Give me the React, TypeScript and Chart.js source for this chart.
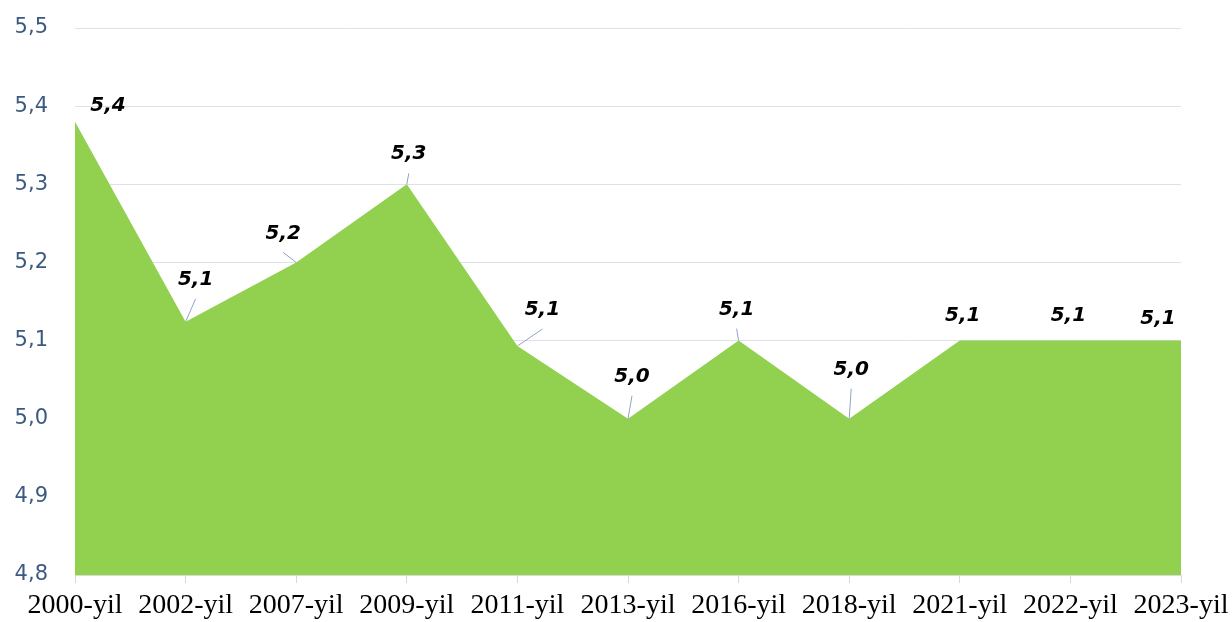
import React, { useEffect, useRef } from "react";
import { Chart, registerables } from "chart.js";

Chart.register(...registerables);

const categories = [
  "2000-yil", "2002-yil", "2007-yil", "2009-yil", "2011-yil", "2013-yil",
  "2016-yil", "2018-yil", "2021-yil", "2022-yil", "2023-yil",
];
const values = [5.38, 5.124, 5.2, 5.3, 5.093, 5.0, 5.1, 5.0, 5.1, 5.1, 5.1];
const valueLabels = ["5,4", "5,1", "5,2", "5,3", "5,1", "5,0", "5,1", "5,0", "5,1", "5,1", "5,1"];
const yTicks = [4.8, 4.9, 5.0, 5.1, 5.2, 5.3, 5.4, 5.5];

// label placement (style): offset of label centre from its point, and whether a leader line is drawn
const labelDx = [33, 10, -13, 2, 25, 4, -2, 2, 3, -2, -23];
const labelDy = [-16, -42, -29, -30, -36, -42, -31, -49, -25, -25, -22];
const hasLeader = [false, true, true, true, true, true, true, true, false, false, false];

const dataLabelPlugin = {
  id: "dataLabels",
  afterDatasetsDraw(chart: any) {
    const ctx = chart.ctx;
    const meta = chart.getDatasetMeta(0);
    ctx.save();
    meta.data.forEach((pt: any, i: number) => {
      const lx = pt.x + labelDx[i];
      const ly = pt.y + labelDy[i];
      if (hasLeader[i]) {
        ctx.strokeStyle = "#8fa3c8";
        ctx.lineWidth = 1;
        ctx.beginPath();
        ctx.moveTo(lx, ly + 19);
        ctx.lineTo(pt.x, pt.y);
        ctx.stroke();
      }
      ctx.font = "italic bold 20px 'DejaVu Sans'";
      ctx.fillStyle = "#000000";
      ctx.textAlign = "center";
      ctx.textBaseline = "middle";
      ctx.fillText(valueLabels[i], lx, ly);
    });
    ctx.restore();
  },
};

export default function App() {
  const ref = useRef<HTMLCanvasElement>(null);
  useEffect(() => {
    if (!ref.current) return;
    const chart = new Chart(ref.current, {
      type: "line",
      data: {
        labels: categories,
        datasets: [
          {
            data: values,
            backgroundColor: "#92d050",
            borderColor: "#92d050",
            borderWidth: 0,
            fill: "start",
            pointRadius: 0,
            tension: 0,
          },
        ],
      },
      options: {
        responsive: false,
        animation: false,
        layout: { padding: { top: 28, right: 51, left: 0, bottom: 0 } },
        plugins: { legend: { display: false }, tooltip: { enabled: false } },
        scales: {
          x: {
            offset: false,
            grid: {
              drawOnChartArea: false,
              drawTicks: true,
              tickLength: 8,
              tickColor: "#d9d9d9",
            },
            border: { display: true, color: "#d9d9d9", width: 1 },
            ticks: {
              autoSkip: false,
              maxRotation: 0,
              minRotation: 0,
              padding: 6,
              color: "#000000",
              font: { family: "'Liberation Serif'", size: 28 },
            },
            afterFit: (s: any) => {
              s.height = 47;
              s.paddingLeft = 0;
              s.paddingRight = 0;
            },
          },
          y: {
            min: 4.8,
            max: 5.5,
            afterBuildTicks: (s: any) => {
              s.ticks = yTicks.map((v) => ({ value: v }));
            },
            grid: { color: "#dde2ea", lineWidth: 1, drawTicks: false },
            border: { display: false },
            ticks: {
              padding: 27,
              color: "#3b5a82",
              font: { family: "'DejaVu Sans'", size: 21 },
              callback: (v: any) => Number(v).toFixed(1).replace(".", ","),
            },
            afterFit: (s: any) => {
              s.width = 75;
              s.paddingTop = 0;
              s.paddingBottom = 0;
            },
          },
        },
      },
      plugins: [dataLabelPlugin],
    });
    return () => chart.destroy();
  }, []);
  return (
    <div style={{ position: "fixed", left: 0, top: 0, width: 1232, height: 622, background: "#fff" }}>
      <canvas ref={ref} width={1232} height={622} style={{ display: "block" }} />
    </div>
  );
}
